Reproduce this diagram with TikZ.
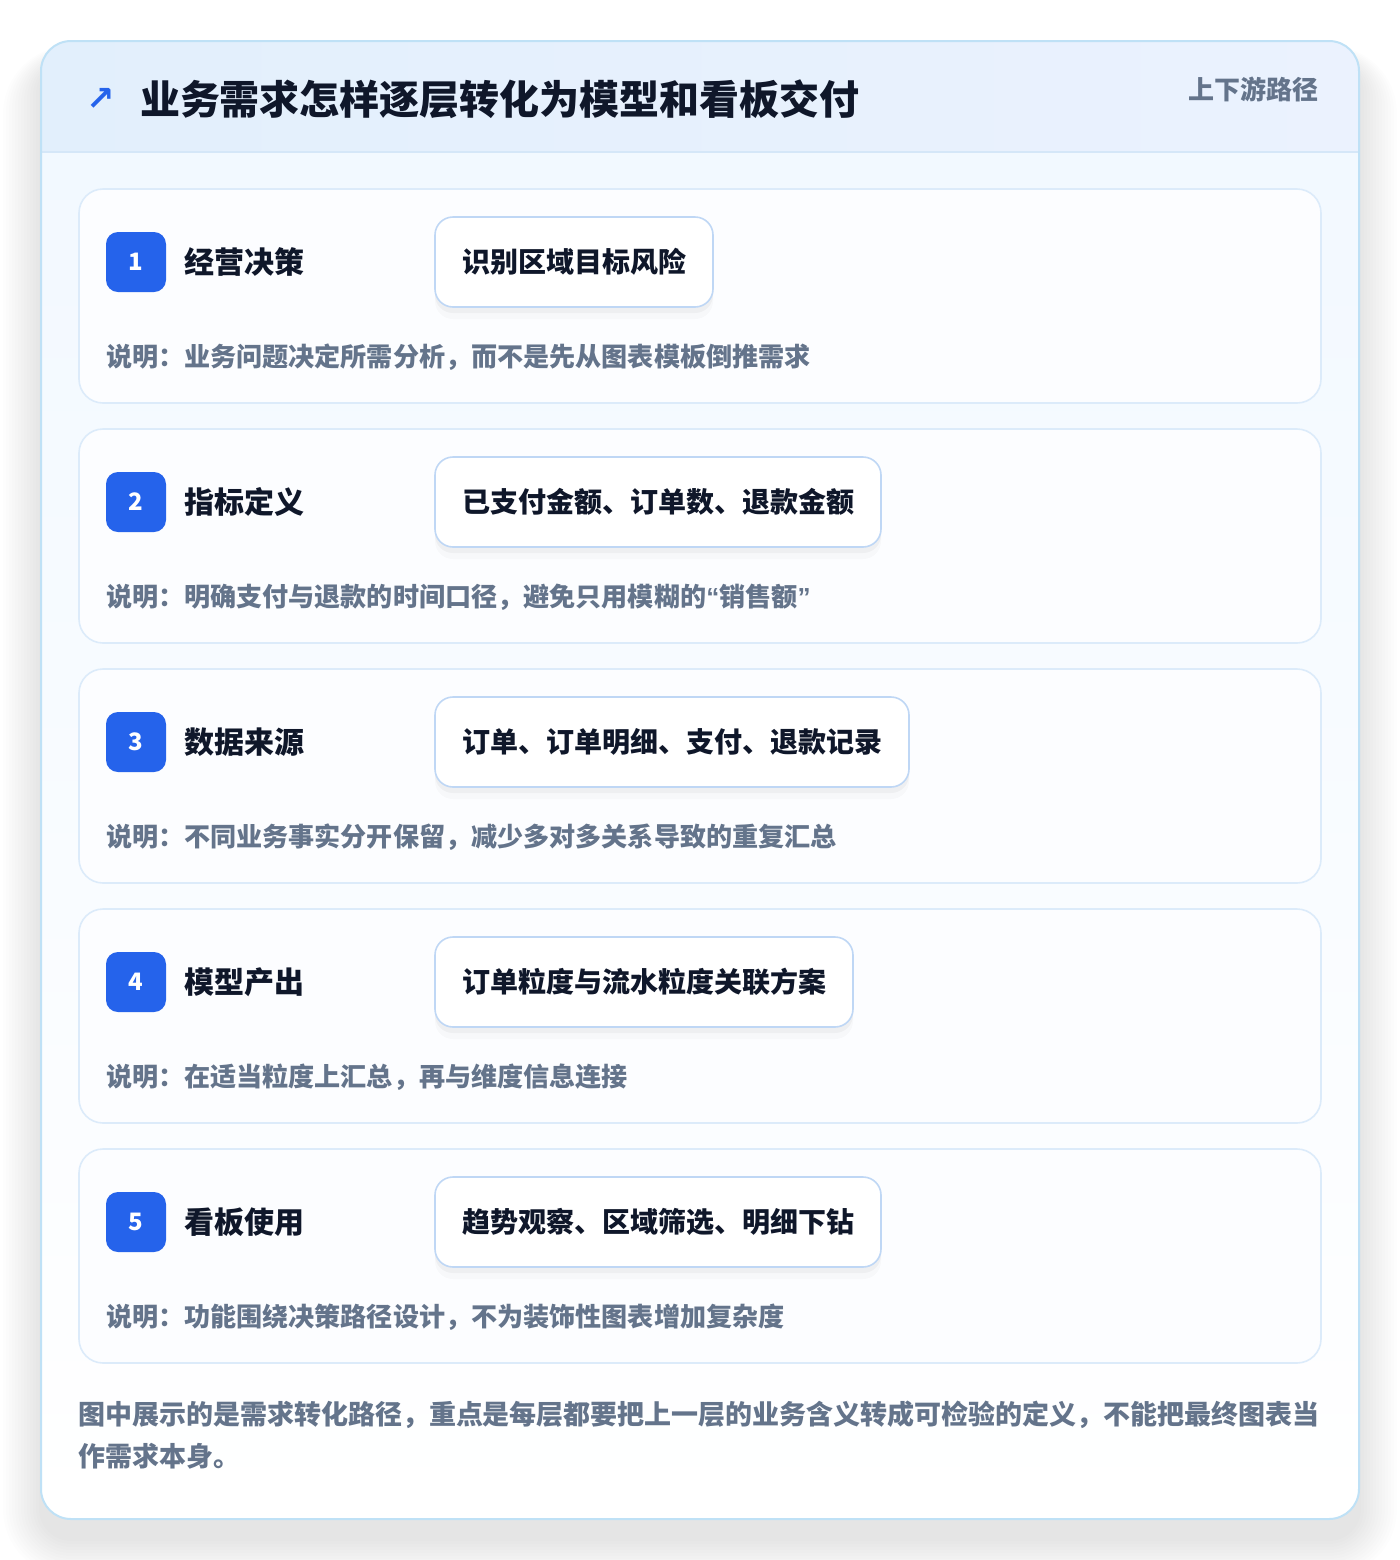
\documentclass[tikz,border=0pt]{standalone}
\usepackage{fontspec}
\setmainfont{Noto Sans CJK SC}
\newfontfamily\symfont{DejaVu Sans}
\newfontfamily\quotefont{Liberation Sans}
\usetikzlibrary{positioning}

\definecolor{ink}{HTML}{0F172A}
\definecolor{mute}{HTML}{64748B}
\definecolor{badgeblue}{HTML}{2563EB}
\definecolor{frameline}{HTML}{BFE1F6}
\definecolor{headleft}{HTML}{E2EFFC}
\definecolor{headright}{HTML}{EBF2FE}
\definecolor{headline}{HTML}{D5E7F8}
\definecolor{bodytop}{HTML}{F1F8FF}
\definecolor{cardline}{HTML}{DCEBFA}
\definecolor{cardfill}{HTML}{FCFDFF}
\definecolor{boxline}{HTML}{BFD7F5}

\begin{document}
\begin{tikzpicture}[
    x=0.5pt, y=-0.5pt,
    every node/.style={inner sep=0pt, outer sep=0pt},
    stepcard/.style={draw=cardline, line width=0.8pt, fill=cardfill, rounded corners=12pt,
        minimum width=621pt, minimum height=107pt},
    badge/.style={fill=badgeblue, rounded corners=6pt, minimum size=30pt, text=white,
        font=\bfseries\fontsize{12}{12}\selectfont},
    steptitle/.style={anchor=west, text=ink, font=\bfseries\fontsize{15}{15}\selectfont},
    outbox/.style={anchor=west, draw=boxline, line width=0.8pt, fill=white, rounded corners=9pt,
        minimum height=45pt, inner xsep=13.5pt, text=ink, font=\bfseries\fontsize{14}{14}\selectfont,
        preaction={fill=black, opacity=0.035, transform canvas={yshift=-3pt}},
        preaction={fill=black, opacity=0.02, transform canvas={yshift=-6pt}}},
    note/.style={anchor=west, text=mute, font=\bfseries\fontsize{13.05}{13.05}\selectfont}
]
    \useasboundingbox (0,0) rectangle (1400,1560);
    \fill[white] (0,0) rectangle (1400,1560);

    % soft shadow under the outer card
    \foreach \e in {2,5,...,38}
        \fill[black, opacity=0.008, rounded corners=15pt+0.5*\e]
            (41-\e,61-0.4*\e) rectangle (1359+\e,1539+\e);

    % outer card with header band
    \fill[top color=bodytop, bottom color=white, rounded corners=15pt] (41,41) rectangle (1359,1519);
    \begin{scope}
        \clip[rounded corners=15pt] (41,41) rectangle (1359,1519);
        \fill[left color=headleft, right color=headright] (41,41) rectangle (1359,152);
    \end{scope}
    \draw[headline, line width=0.8pt] (41,152) -- (1359,152);
    \draw[frameline, line width=1pt, rounded corners=15pt] (41,41) rectangle (1359,1519);

    \node[text=badgeblue, font=\symfont\bfseries\fontsize{17}{17}\selectfont] (icon) at (101,99) {↗};
    \node[anchor=west, text=ink, font=\bfseries\fontsize{20}{20}\selectfont] (title) at (140,99)
        {业务需求怎样逐层转化为模型和看板交付};
    \node[anchor=east, text=mute, font=\bfseries\fontsize{13}{13}\selectfont] (tag) at (1318,89) {上下游路径};

    % step 1
    \node[stepcard] (card1) at (700,296) {};
    \node[badge] (num1) at (136,262) {1};
    \node[steptitle, right=9pt of num1] (ttl1) {经营决策};
    \node[outbox] (out1) at (435,262) {识别区域目标风险};
    \node[note] (note1) at (106,357) {说明：业务问题决定所需分析，而不是先从图表模板倒推需求};

    % step 2
    \node[stepcard] (card2) at (700,536) {};
    \node[badge] (num2) at (136,502) {2};
    \node[steptitle, right=9pt of num2] (ttl2) {指标定义};
    \node[outbox] (out2) at (435,502) {已支付金额、订单数、退款金额};
    \node[note] (note2) at (106,597) {说明：明确支付与退款的时间口径，避免只用模糊的{\quotefont “}销售额{\quotefont ”}};

    % step 3
    \node[stepcard] (card3) at (700,776) {};
    \node[badge] (num3) at (136,742) {3};
    \node[steptitle, right=9pt of num3] (ttl3) {数据来源};
    \node[outbox] (out3) at (435,742) {订单、订单明细、支付、退款记录};
    \node[note] (note3) at (106,837) {说明：不同业务事实分开保留，减少多对多关系导致的重复汇总};

    % step 4
    \node[stepcard] (card4) at (700,1016) {};
    \node[badge] (num4) at (136,982) {4};
    \node[steptitle, right=9pt of num4] (ttl4) {模型产出};
    \node[outbox] (out4) at (435,982) {订单粒度与流水粒度关联方案};
    \node[note] (note4) at (106,1077) {说明：在适当粒度上汇总，再与维度信息连接};

    % step 5
    \node[stepcard] (card5) at (700,1256) {};
    \node[badge] (num5) at (136,1222) {5};
    \node[steptitle, right=9pt of num5] (ttl5) {看板使用};
    \node[outbox] (out5) at (435,1222) {趋势观察、区域筛选、明细下钻};
    \node[note] (note5) at (106,1317) {说明：功能围绕决策路径设计，不为装饰性图表增加复杂度};

    % closing remark
    \node[anchor=north west, align=left, text=mute, font=\bfseries\fontsize{13.5}{21}\selectfont] (remark) at (78,1401)
        {图中展示的是需求转化路径，重点是每层都要把上一层的业务含义转成可检验的定义，不能把最终图表当\\作需求本身。};
\end{tikzpicture}
\end{document}
